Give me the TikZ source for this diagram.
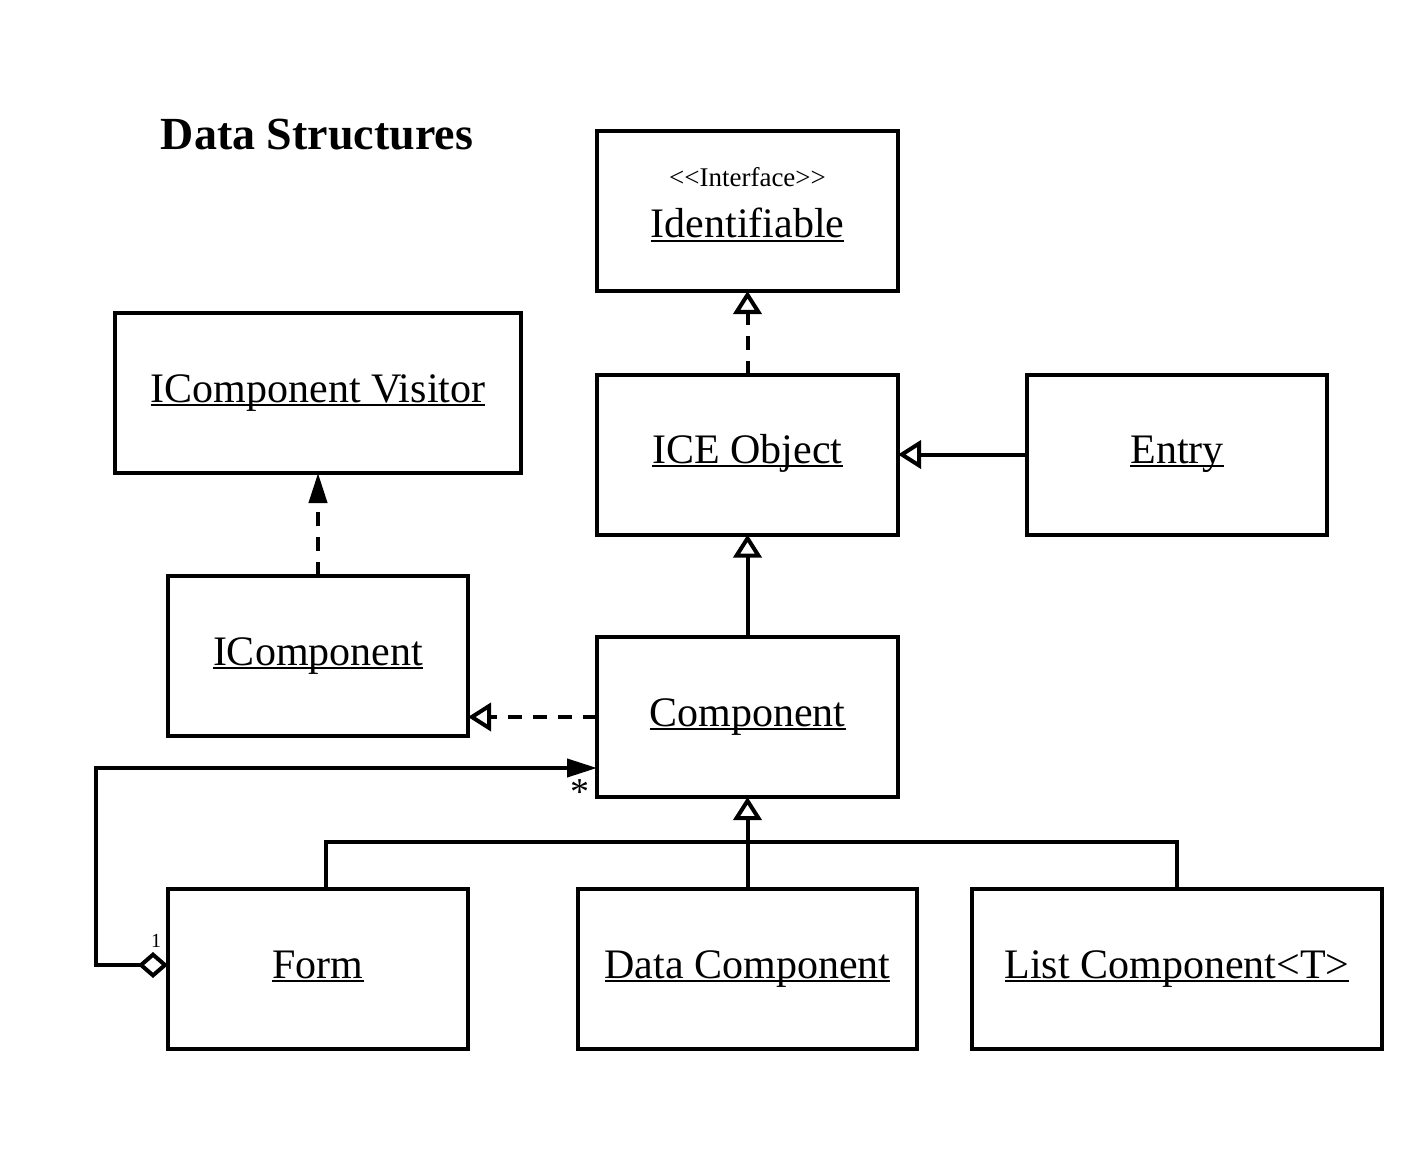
\documentclass[tikz,border=0pt]{standalone}
\usepackage{fontspec}
\setmainfont{Liberation Serif}
\usetikzlibrary{arrows.meta}
\newcommand\ulx[1]{\setbox0\hbox{#1}\rlap{\rule[-4pt]{\wd0}{2pt}}\box0}
\begin{document}
\begin{tikzpicture}[x=1pt,y=-1pt,
  box/.style={draw, line width=4pt, fill=white, minimum width=#1, minimum height=160pt, inner sep=0pt, outer sep=0pt},
  lbl/.style={anchor=base, font=\fontsize{42}{48}\selectfont, inner sep=0pt},
  ln/.style={line width=4pt},
  dsh/.style={line width=4pt, dash pattern=on 14pt off 11pt},
  gen/.style={-{Triangle[open, length=23pt, width=28pt]}},
  assoc/.style={-{Triangle[length=30pt, width=18pt]}}]
\useasboundingbox (0,0) rectangle (1424,1150);
\fill[white] (0,0) rectangle (1424,1150);
\node[anchor=base, font=\fontsize{46}{52}\selectfont\bfseries, inner sep=0pt] (title) at (317,150) {Data Structures};
\node[box=301pt] (ident) at (747.5,211) {};
\node[box=406pt] (visitor) at (318,393) {};
\node[box=301pt] (ice) at (747.5,454.5) {};
\node[box=300pt] (entry) at (1177,454.5) {};
\node[box=300pt] (icomp) at (318,656) {};
\node[box=301pt] (comp) at (747.5,717) {};
\node[box=300pt] (form) at (318,969) {};
\node[box=339pt] (data) at (747.5,969) {};
\node[box=410pt] (list) at (1177,969) {};
\node[anchor=base, font=\fontsize{27}{31}\selectfont, inner sep=0pt] (stereo) at (747.5,187) {<{}<Interface>{}>};
\node[lbl] (tident) at (747.5,238) {\ulx{Identifiable}};
\node[lbl] (tvisitor) at (318,402) {\ulx{IComponent Visitor}};
\node[lbl] (tice) at (747.5,463) {\ulx{ICE Object}};
\node[lbl] (tentry) at (1177,463) {\ulx{Entry}};
\node[lbl] (ticomp) at (318,665) {\ulx{IComponent}};
\node[lbl] (tcomp) at (747.5,726) {\ulx{Component}};
\node[lbl] (tform) at (318,978) {\ulx{Form}};
\node[lbl] (tdata) at (747.5,978) {\ulx{Data Component}};
\node[lbl] (tlist) at (1177,978) {\ulx{List Component<T>}};
\draw[dsh, gen] (ice.north) -- (ident.south);
\draw[ln, gen] (entry.west) -- (ice.east);
\draw[ln, gen] (comp.north) -- (ice.south);
\draw[dsh, assoc] (icomp.north) -- (visitor.south);
\draw[dsh, gen] (comp.west) -- (comp.west -| icomp.east);
\coordinate (aggT) at ([yshift=-51pt]comp.west);
\draw[ln, {Diamond[open, length=30pt, width=26pt]}-{Triangle[length=30pt, width=18pt]}] ([yshift=4pt]form.west) -- ++(-72,0) |- (aggT);
\node[font=\fontsize{38}{42}\selectfont, inner sep=0pt] (star) at (580,792) {*};
\node[font=\fontsize{20}{24}\selectfont, inner sep=0pt] (one) at (156,941) {1};
\draw[ln] ([xshift=8pt]form.north) -- ++(0,-47) -| (list.north);
\draw[ln, gen] (data.north) -- (comp.south);
\end{tikzpicture}
\end{document}
